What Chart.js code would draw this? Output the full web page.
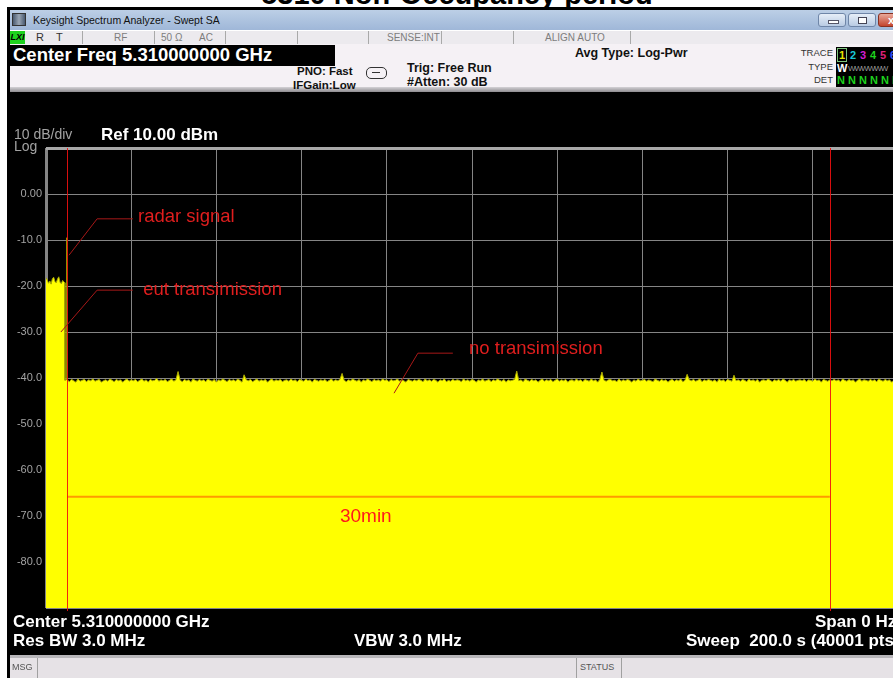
<!DOCTYPE html>
<html>
<head>
<meta charset="utf-8">
<title>5310 Non-Occupancy period</title>
<script src="https://cdn.jsdelivr.net/npm/chart.js@4.4.0/dist/chart.umd.min.js"></script>
<style>
    html, body { margin: 0; padding: 0; width: 893px; height: 678px; overflow: hidden; background: #fff; }
    body { position: relative; font-family: "Liberation Sans", Arial, sans-serif; }
    .abs { position: absolute; white-space: pre; }
    #page-title { left: 0; width: 914px; top: -20px; text-align: center; font-size: 29px; line-height: 29px; font-weight: bold; color: #000; }
    #frame { left: 7px; top: 7px; width: 886px; height: 671px; background: #000; }
    #titlebar { left: 10px; top: 10px; width: 883px; height: 20px; background: linear-gradient(#bccfe6, #9fb7d8); }
    #titlebar .caption { left: 23px; top: 5px; font-size: 10.5px; line-height: 10.5px; color: #111; }
    .icon { left: 2px; top: 3px; width: 14px; height: 13px; background: linear-gradient(90deg, #4a5a70, #9aa6b4 50%, #4a5a70); border: 1px solid #333; box-sizing: border-box; }
    .btn { top: 3px; height: 14px; border: 1px solid #6f86a8; border-radius: 3px; box-sizing: border-box; background: linear-gradient(#e6eef8, #b9cbe3); }
    #statusrow { left: 10px; top: 30px; width: 883px; height: 14px; background: #eceaee; border-top: 1px solid #fff; box-sizing: border-box; }
    .cell { top: 0; height: 14px; border-left: 1px solid #a9a9a9; }
    .st { top: 2px; font-size: 10px; line-height: 10px; color: #7d7d7d; }
    #lxi { left: 0; top: 0; width: 15px; height: 13px; background: #1ed21e; font-size: 9px; line-height: 13px; font-weight: bold; font-style: italic; color: #000; text-align: center; }
    #panel { left: 10px; top: 44px; width: 883px; height: 48px; background: #f5f1f5; }
    #panel-bottom { left: 10px; top: 87px; width: 883px; height: 5px; background: linear-gradient(#d4d2d6, #8e8c90); }
    #cf { left: 0; top: 1px; width: 325px; height: 21px; background: #000; }
    #cf span { left: 3px; top: 1px; font-size: 18.5px; line-height: 18.5px; font-weight: bold; color: #fff; }
    .info { font-weight: bold; color: #111; }
    .small { right: 60px; font-size: 9.5px; line-height: 10px; color: #333; text-align: right; }
    #tracebox { left: 836px; top: 47px; width: 70px; height: 40px; background: #000; }
    .tb { font-size: 11px; line-height: 11px; font-weight: bold; }
    #chart-wrap { left: 7px; top: 93px; width: 905px; height: 562px; background: #000; }
    .plotlabel { color: #a3a3a3; }
    .white { color: #fff; font-weight: bold; }
    #msgbar { left: 10px; top: 655px; width: 883px; height: 23px; background: #e6e2e6; border-top: 3px solid #b8b6ba; box-sizing: border-box; }
    .mcell { top: 0; height: 20px; border-left: 1px solid #a0a0a0; }
    .mtxt { top: 5px; font-size: 9px; line-height: 9px; color: #555; }
</style>
</head>
<body>
    <div class="abs" id="page-title">5310 Non-Occupancy period</div>
    <div class="abs" id="frame"></div>

    <!-- ウィンドウのタイトルバー -->
    <div class="abs" id="titlebar">
        <div class="abs icon"></div>
        <div class="abs caption">Keysight Spectrum Analyzer - Swept SA</div>
        <div class="abs btn" style="left:808px;width:28px;"><div class="abs" style="left:9px;top:6px;width:9px;height:2px;background:#fff;border:1px solid #556;"></div></div>
        <div class="abs btn" style="left:838px;width:28px;"><div class="abs" style="left:9px;top:3px;width:7px;height:5px;border:1px solid #445;background:#fff;"></div></div>
        <div class="abs btn" style="left:868px;width:30px;background:linear-gradient(#e8a89a,#c4452f);border-color:#8a3020;"><div class="abs" style="left:9px;top:0px;font-size:11px;line-height:12px;font-weight:bold;color:#fff;">x</div></div>
    </div>

    <!-- ステータス行 -->
    <div class="abs" id="statusrow">
        <div class="abs" id="lxi">LXI</div>
        <div class="abs st" style="left:26px;color:#333;font-size:11px;top:1px;">R    T</div>
        <div class="abs cell" style="left:72px;"></div>
        <div class="abs st" style="left:104px;">RF</div>
        <div class="abs cell" style="left:144px;"></div>
        <div class="abs st" style="left:151px;">50 Ω      AC</div>
        <div class="abs cell" style="left:215px;"></div>
        <div class="abs cell" style="left:287px;"></div>
        <div class="abs cell" style="left:358px;"></div>
        <div class="abs st" style="left:377px;">SENSE:INT</div>
        <div class="abs cell" style="left:431px;"></div>
        <div class="abs cell" style="left:503px;"></div>
        <div class="abs st" style="left:535px;">ALIGN AUTO</div>
        <div class="abs cell" style="left:620px;"></div>
    </div>

    <!-- 設定パネル -->
    <div class="abs" id="panel">
        <div class="abs" id="cf"><span class="abs">Center Freq 5.310000000 GHz</span></div>
    </div>
    <div class="abs" id="panel-bottom"></div>
    <div class="abs info" style="left:297px;top:66px;font-size:11.5px;line-height:11.5px;">PNO: Fast</div>
    <div class="abs info" style="left:293px;top:79.5px;font-size:11.5px;line-height:11.5px;">IFGain:Low</div>
    <div class="abs" style="left:366px;top:67px;width:19px;height:10px;border:1px solid #333;border-radius:5px;"></div>
    <div class="abs" style="left:372px;top:72px;width:8px;height:1px;background:#333;"></div>
    <div class="abs info" style="left:407px;top:61.5px;font-size:12.5px;line-height:12.5px;">Trig: Free Run</div>
    <div class="abs info" style="left:407px;top:76px;font-size:12.5px;line-height:12.5px;">#Atten: 30 dB</div>
    <div class="abs info" style="left:575px;top:46.5px;font-size:12.5px;line-height:12.5px;">Avg Type: Log-Pwr</div>
    <div class="abs small" style="top:48px;">TRACE</div>
    <div class="abs small" style="top:61.5px;">TYPE</div>
    <div class="abs small" style="top:75px;">DET</div>
    <div class="abs" id="tracebox">
        <div class="abs tb" style="left:1px;top:1px;width:10px;height:14px;border:1px solid #7cc47c;box-sizing:border-box;"></div>
        <div class="abs tb" style="left:3px;top:3px;color:#e8e800;">1</div>
        <div class="abs tb" style="left:14px;top:3px;color:#19c8d8;">2</div>
        <div class="abs tb" style="left:24px;top:3px;color:#d21cd2;">3</div>
        <div class="abs tb" style="left:34px;top:3px;color:#1ed21e;">4</div>
        <div class="abs tb" style="left:44px;top:3px;color:#e0207a;">5</div>
        <div class="abs tb" style="left:54px;top:3px;color:#3050ff;">6</div>
        <div class="abs tb" style="left:1px;top:16px;color:#fff;">W</div>
        <div class="abs" style="left:12px;top:18px;font-size:8px;line-height:8px;color:#9a9a9a;letter-spacing:-1px;">WWWWWW</div>
        <div class="abs tb" style="left:1px;top:28px;color:#1ed21e;">N N N N N N</div>
    </div>

    <!-- グラフ領域 -->
    <div class="abs" id="chart-wrap"><canvas id="sa-chart" width="905" height="562"></canvas></div>
    <div class="abs plotlabel" style="left:14px;top:126.5px;font-size:14px;line-height:14px;">10 dB/div</div>
    <div class="abs plotlabel" style="left:14px;top:139px;font-size:14px;line-height:14px;">Log</div>
    <div class="abs white" style="left:101px;top:125.5px;font-size:17px;line-height:17px;">Ref 10.00 dBm</div>

    <!-- 下部の設定表示 -->
    <div class="abs white" style="left:13px;top:612.5px;font-size:17px;line-height:17px;">Center 5.310000000 GHz</div>
    <div class="abs white" style="left:815px;top:612.5px;font-size:17px;line-height:17px;">Span 0 Hz</div>
    <div class="abs white" style="left:13px;top:631.5px;font-size:17px;line-height:17px;">Res BW 3.0 MHz</div>
    <div class="abs white" style="left:354px;top:631.5px;font-size:17px;line-height:17px;">VBW 3.0 MHz</div>
    <div class="abs white" style="left:686px;top:631.5px;font-size:17px;line-height:17px;">Sweep  200.0 s (40001 pts)</div>

    <div class="abs" id="msgbar">
        <div class="abs mtxt" style="left:2px;">MSG</div>
        <div class="abs mcell" style="left:27px;"></div>
        <div class="abs mcell" style="left:566px;"></div>
        <div class="abs mtxt" style="left:570px;">STATUS</div>
        <div class="abs mcell" style="left:611px;"></div>
    </div>

<script>
// 掃引時間 (s) とレベル (dBm)：先頭のバースト部分
const burstTimes = [0, 0.3, 0.6, 0.9, 1.2, 1.5, 1.8, 2.1, 2.4, 2.7, 3.0, 3.3, 3.6, 3.9, 4.2, 4.4, 4.45, 4.85, 4.9, 4.95];
const burstLevels = [-18.2, -18.7, -19.4, -18.9, -19.6, -18.4, -18.1, -19.0, -19.3, -18.5, -18.0, -19.2, -19.5, -18.8, -19.1, -19.3, -40.5, -40.3, -9.5, -40.4];

// ノイズフロア：5 s から 0.5 s ごとの読み取り値
const floorStart = 5;
const floorStep = 0.5;
const floorLevels = [
    -40.4, -40.8, -40.3, -40.6, -40.9, -40.2, -40.7, -40.5, -40.3, -40.8, -40.4, -40.6, -40.2, -40.7, -40.5,
    -40.3, -40.9, -40.6, -40.4, -40.7, -40.2, -40.5, -40.8, -40.3, -40.6, -40.4, -40.9, -40.5, -40.2, -40.7,
    -40.4, -40.6, -40.3, -40.8, -40.5, -40.2, -40.7, -40.4, -40.9, -40.3, -40.6, -40.5, -40.1, -40.7, -40.4,
    -40.6, -40.3, -40.8, -40.5, -40.2, -40.7, -40.4, -38.6, -40.5, -40.8, -40.3, -40.6, -40.4, -40.9, -40.2,
    -40.5, -40.7, -40.3, -40.6, -40.4, -40.8, -40.2, -40.5, -40.7, -40.3, -40.9, -40.4, -40.6, -40.2, -40.5,
    -40.8, -40.3, -40.6, -40.4, -40.7, -40.2, -40.5, -40.9, -39.3, -40.4, -40.6, -40.3, -40.8, -40.5, -40.2,
    -40.7, -40.4, -40.6, -40.3, -40.9, -40.5, -40.2, -40.7, -40.4, -40.6, -40.3, -40.8, -40.5, -40.4, -40.7,
    -40.2, -40.6, -40.4, -40.8, -40.3, -40.5, -40.7, -40.2, -40.6, -40.4, -40.9, -40.3, -40.5, -40.7, -40.4,
    -40.6, -40.3, -40.8, -40.5, -40.2, -40.7, -40.4, -40.6, -40.3, -39.0, -40.5, -40.8, -40.4, -40.6, -40.2,
    -40.5, -40.7, -40.3, -40.9, -40.4, -40.6, -40.2, -40.5, -40.8, -40.3, -40.6, -40.4, -40.7, -40.2, -40.5,
    -40.4, -40.8, -40.3, -40.6, -40.5, -40.2, -40.7, -40.4, -40.6, -40.9, -40.3, -40.5, -40.7, -40.4, -40.6,
    -40.3, -40.5, -40.8, -40.2, -40.6, -40.4, -40.7, -40.3, -40.5, -40.9, -40.4, -40.6, -40.2, -40.8, -40.5,
    -40.7, -40.3, -40.6, -40.4, -40.5, -40.8, -40.2, -40.6, -40.4, -40.7, -40.3, -40.5, -40.9, -40.4, -40.6,
    -40.2, -40.7, -40.5, -40.3, -40.8, -40.4, -40.6, -40.2, -40.5, -40.7, -40.3, -40.9, -40.4, -40.6, -40.5,
    -40.3, -38.5, -40.6, -40.4, -40.8, -40.2, -40.5, -40.7, -40.3, -40.6, -40.4, -40.9, -40.5, -40.2, -40.7,
    -40.4, -40.6, -40.3, -40.8, -40.5, -40.2, -40.7, -40.4, -40.6, -40.3, -40.9, -40.5, -40.4, -40.7, -40.2,
    -40.6, -40.4, -40.8, -40.3, -40.5, -40.7, -40.2, -40.6, -40.4, -40.9, -40.3, -38.7, -40.5, -40.7, -40.4,
    -40.3, -40.6, -40.5, -40.8, -40.2, -40.7, -40.4, -40.6, -40.3, -40.5, -40.9, -40.4, -40.7, -40.2, -40.6,
    -40.5, -40.3, -40.7, -40.4, -40.6, -40.8, -40.2, -40.5, -40.7, -40.3, -40.6, -40.4, -40.9, -40.5, -40.3,
    -40.7, -40.4, -40.6, -40.2, -40.8, -40.5, -39.2, -40.4, -40.6, -40.3, -40.7, -40.5, -40.2, -40.8, -40.4,
    -40.6, -40.3, -40.5, -40.7, -40.4, -40.9, -40.2, -40.6, -40.4, -40.8, -40.3, -40.5, -40.7, -39.4, -40.6,
    -40.4, -40.7, -40.3, -40.5, -40.8, -40.2, -40.6, -40.4, -40.7, -40.3, -40.9, -40.5, -40.4, -40.6, -40.2,
    -40.5, -40.8, -40.4, -40.6, -40.3, -40.7, -40.2, -40.5, -40.9, -40.4, -40.6, -40.3, -40.7, -40.5, -40.4,
    -40.6, -40.3, -40.8, -40.4, -40.5, -40.7, -40.2, -40.6, -40.4, -40.9, -40.3, -40.5, -40.7, -40.4, -40.6,
    -40.3, -40.6, -40.4, -40.8, -40.2, -40.5, -40.7, -40.3, -40.6, -40.4, -40.9, -40.5, -40.2, -40.7, -40.4,
    -40.5, -40.7, -40.3, -40.6, -40.4, -40.8, -40.2, -40.5, -40.7, -40.3, -40.6, -40.4, -40.9, -40.5, -40.6
];

// 軸の目盛り
const levelTicks = [10, 0, -10, -20, -30, -40, -50, -60, -70, -80, -90];
const levelTickLabels = ['', '0.00', '-10.0', '-20.0', '-30.0', '-40.0', '-50.0', '-60.0', '-70.0', '-80.0', ''];
const sweepMin = 0;
const sweepMax = 200;
const sweepDiv = 20;

// マーカー線 (時間) と 30min バーのレベル
const markerTimes = [4.93, 184.0];
const spanBarLevel = -65.8;

// 注釈 (テキストと引き出し線、データ座標)
const notes = [
    { text: 'radar signal', t: 21.6, v: -6.1, line: [[20.4, -5.4], [12.0, -5.4], [5.4, -13.3]] },
    { text: 'eut transimission', t: 22.8, v: -22.0, line: [[20.4, -20.9], [12.0, -20.9], [3.5, -30.0]] },
    { text: 'no transimission', t: 99.3, v: -34.8, line: [[95.5, -34.6], [87.3, -34.6], [81.7, -43.3]] }
];
const spanLabel = { text: '30min', t: 69.0, v: -71.3 };

// トレースデータを組み立てる
const tracePoints = burstTimes.map((t, i) => ({ x: t, y: burstLevels[i] }));
floorLevels.forEach((v, i) => {
    tracePoints.push({ x: floorStart + i * floorStep, y: v });
});

const fontFamily = '"Liberation Sans", Arial, sans-serif';
Chart.defaults.font.family = fontFamily;

// マーカーと注釈を描くプラグイン
const annotationPlugin = {
    id: 'saNotes',
    afterDatasetsDraw(chart) {
        const { ctx, chartArea } = chart;
        const x = chart.scales.x;
        const y = chart.scales.y;
        ctx.save();

        // 30min の横線
        ctx.strokeStyle = '#ff9a00';
        ctx.lineWidth = 2;
        ctx.beginPath();
        ctx.moveTo(x.getPixelForValue(markerTimes[0]), y.getPixelForValue(spanBarLevel));
        ctx.lineTo(x.getPixelForValue(markerTimes[1]), y.getPixelForValue(spanBarLevel));
        ctx.stroke();

        // 縦のマーカー線
        ctx.strokeStyle = 'rgba(240, 16, 16, 0.9)';
        ctx.lineWidth = 1;
        markerTimes.forEach(t => {
            const px = Math.round(x.getPixelForValue(t)) + 0.5;
            ctx.beginPath();
            ctx.moveTo(px, chartArea.top);
            ctx.lineTo(px, chartArea.bottom + 3);
            ctx.stroke();
        });

        // 引き出し線とテキスト
        ctx.font = '18.5px ' + fontFamily;
        ctx.textBaseline = 'alphabetic';
        ctx.textAlign = 'left';
        notes.forEach(n => {
            ctx.strokeStyle = '#a81818';
            ctx.lineWidth = 1;
            ctx.beginPath();
            n.line.forEach((p, i) => {
                const px = x.getPixelForValue(p[0]);
                const py = y.getPixelForValue(p[1]);
                if (i === 0) ctx.moveTo(px, py); else ctx.lineTo(px, py);
            });
            ctx.stroke();
            ctx.fillStyle = '#e01e1e';
            ctx.fillText(n.text, x.getPixelForValue(n.t), y.getPixelForValue(n.v));
        });

        ctx.fillStyle = '#ff1a1a';
        ctx.font = '19px ' + fontFamily;
        ctx.fillText(spanLabel.text, x.getPixelForValue(spanLabel.t), y.getPixelForValue(spanLabel.v));
        ctx.restore();
    }
};

new Chart(document.getElementById('sa-chart'), {
    type: 'line',
    data: {
        datasets: [{
            data: tracePoints,
            borderColor: '#a8a800',
            borderWidth: 1,
            backgroundColor: '#ffff00',
            fill: 'start',
            pointRadius: 0,
            tension: 0
        }]
    },
    options: {
        responsive: false,
        animation: false,
        devicePixelRatio: 1,
        layout: { padding: { left: 0, top: 55, right: 14, bottom: 47 } },
        plugins: {
            legend: { display: false },
            tooltip: { enabled: false }
        },
        scales: {
            x: {
                type: 'linear',
                min: sweepMin,
                max: sweepMax,
                ticks: { display: false, stepSize: sweepDiv },
                grid: {
                    color: '#858585',
                    lineWidth: c => (c.tick && c.tick.value === sweepMin ? 3 : 1),
                    drawTicks: false
                },
                border: { display: false },
                afterFit: s => { s.height = 0; }
            },
            y: {
                min: levelTicks[levelTicks.length - 1],
                max: levelTicks[0],
                afterBuildTicks: s => { s.ticks = levelTicks.map(v => ({ value: v })); },
                ticks: {
                    color: '#a3a3a3',
                    padding: 4,
                    font: { size: 11 },
                    callback: (value, index) => levelTickLabels[index]
                },
                grid: {
                    color: c => (c.tick && c.tick.value === levelTicks[0] ? '#a8a8a8' : '#858585'),
                    lineWidth: c => (c.tick && c.tick.value === levelTicks[0] ? 3 : 1),
                    drawTicks: false
                },
                border: { display: false },
                afterFit: s => { s.width = 39; }
            }
        }
    },
    plugins: [annotationPlugin]
});
</script>
</body>
</html>
